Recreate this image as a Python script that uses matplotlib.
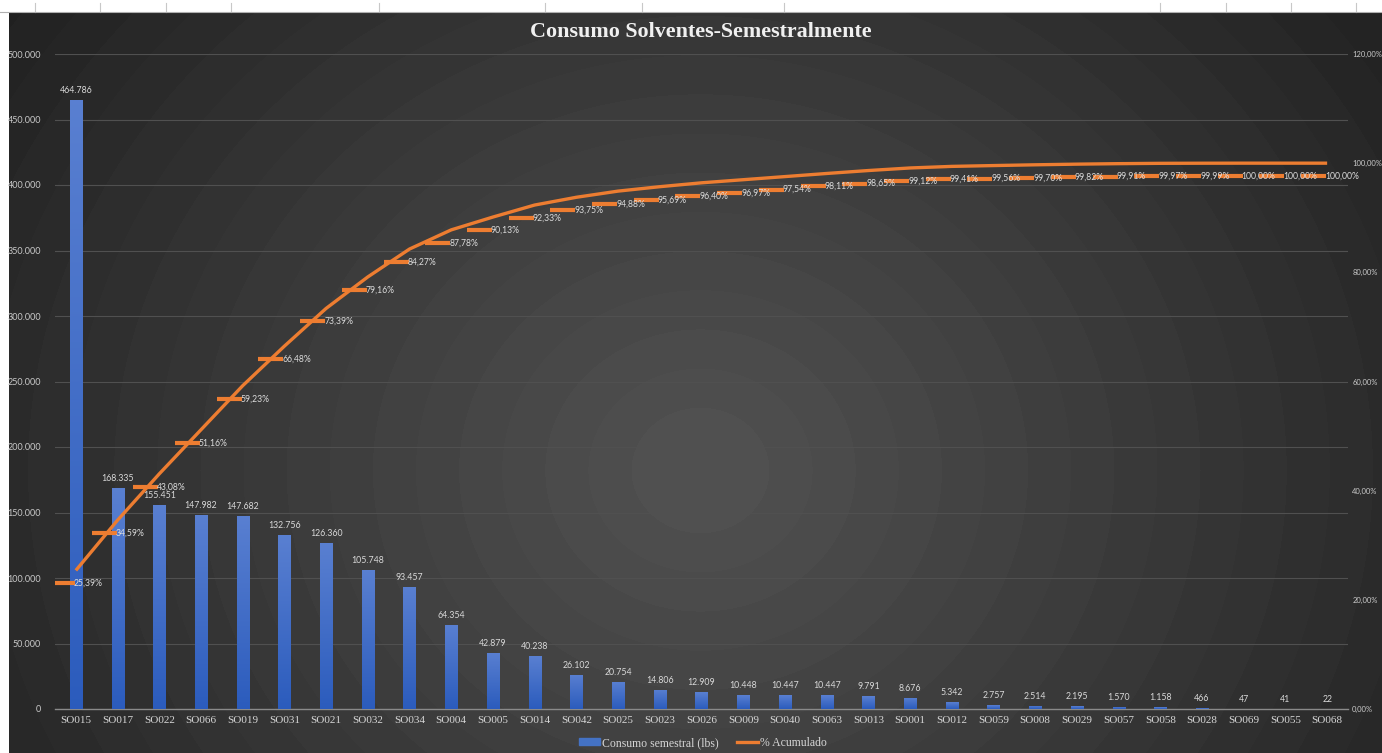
import numpy as np
import matplotlib
matplotlib.use("Agg")
import matplotlib.pyplot as plt
from matplotlib.transforms import ScaledTranslation
from matplotlib.patches import Rectangle
from matplotlib.lines import Line2D

# ---- data ----
categories = ["SO015", "SO017", "SO022", "SO066", "SO019", "SO031", "SO021", "SO032",
              "SO034", "SO004", "SO005", "SO014", "SO042", "SO025", "SO023", "SO026",
              "SO009", "SO040", "SO063", "SO013", "SO001", "SO012", "SO059", "SO008",
              "SO029", "SO057", "SO058", "SO028", "SO069", "SO055", "SO068"]
consumo = [464786, 168335, 155451, 147982, 147682, 132756, 126360, 105748,
           93457, 64354, 42879, 40238, 26102, 20754, 14806, 12909,
           10448, 10447, 10447, 9791, 8676, 5342, 2757, 2514,
           2195, 1570, 1158, 466, 47, 41, 22]
acumulado = [25.39, 34.59, 43.08, 51.16, 59.23, 66.48, 73.39, 79.16,
             84.27, 87.78, 90.13, 92.33, 93.75, 94.88, 95.69, 96.40,
             96.97, 97.54, 98.11, 98.65, 99.12, 99.41, 99.56, 99.70,
             99.82, 99.91, 99.97, 99.99, 100.00, 100.00, 100.00]
left_ticks = list(range(0, 500001, 50000))
right_ticks = [0, 20, 40, 60, 80, 100, 120]

W, H, DPI = 1382, 753, 100
fig = plt.figure(figsize=(W / DPI, H / DPI), dpi=DPI)
fig.patch.set_facecolor("white")

# ---- chart background: soft banded radial gradient ----
bg_l, bg_b = 9 / W, 0.0
bg_w, bg_h = 1 - bg_l, (H - 12) / H
bgax = fig.add_axes([bg_l, bg_b, bg_w, bg_h], zorder=0)
bgax.set_axis_off()
pw, ph = int(W - 9), int(H - 12)
yy, xx = np.mgrid[0:ph, 0:pw]
cx, cy = 700 - 9, 470 - 12
d = np.sqrt((xx - cx) ** 2 + ((yy - cy) * 1.1) ** 2)
val = 84 - 0.058 * d
val = np.floor(val / 2.5) * 2.5
val = np.clip(val, 30, 80) / 255.0
img = np.dstack([val, val, val])
bgax.imshow(img, aspect="auto", interpolation="bilinear")

# spreadsheet header strip
for xp in [35, 100, 166, 231, 379, 545, 642, 784, 1160, 1226, 1291, 1356]:
    fig.add_artist(Line2D([xp / W, xp / W], [1 - 12 / H, 1 - 3 / H],
                          color="#c8c8c8", lw=0.8, transform=fig.transFigure))
fig.add_artist(Line2D([0, 1], [1 - 12 / H, 1 - 12 / H], color="#b0b0b0", lw=0.8,
                      transform=fig.transFigure))

# ---- main axes ----
ax = fig.add_axes([55 / W, (H - 709) / H, (1348 - 55) / W, (709 - 54) / H], zorder=2)
ax.patch.set_alpha(0)
x = np.arange(len(categories))

tick_col = "#c9c9c9"
sans = ["Lato", "DejaVu Sans"]
serif = ["Liberation Serif", "DejaVu Serif"]

ax.set_yticks(left_ticks)
ax.set_yticklabels([f"{v:,}".replace(",", ".") for v in left_ticks],
                   fontsize=6.5, color=tick_col, family=sans)
ax.tick_params(axis="y", length=0, pad=10)
ax.set_xticks(x)
ax.set_xticklabels(categories, fontsize=8, color="#d6d6d6", family=serif)
ax.tick_params(axis="x", length=0, pad=5)
ax.grid(axis="y", color="#505050", lw=0.8)
ax.set_axisbelow(True)
for s in ["top", "right", "left"]:
    ax.spines[s].set_visible(False)
ax.spines["bottom"].set_color("#8a8a8a")
ax.spines["bottom"].set_linewidth(1.0)

# bars with vertical gradient
bar_w = 0.29
bars = ax.bar(x, consumo, width=bar_w, color="#4472c4", zorder=3)
grad = np.linspace(0, 1, 256).reshape(-1, 1)
top_c = np.array([0.35, 0.50, 0.82])
bot_c = np.array([0.17, 0.36, 0.74])
grad_img = (bot_c[None, None, :] * (1 - grad[..., None]) + top_c[None, None, :] * grad[..., None])
for b in bars:
    bx, by = b.get_x(), b.get_y()
    bw, bh = b.get_width(), b.get_height()
    im = ax.imshow(grad_img, extent=[bx, bx + bw, by, by + bh], origin="lower",
                   aspect="auto", zorder=3.1)
    im.set_clip_path(b)
ax.set_xlim(-0.5, len(categories) - 0.5)
ax.set_ylim(0, 500000)

for xi, v in zip(x, consumo):
    ax.annotate(f"{v:,}".replace(",", "."), (xi, v), xytext=(0, 5),
                textcoords="offset pixels", ha="center", va="bottom",
                fontsize=6.3, color="#d9d9d9", family=sans, zorder=5)

# ---- cumulative percentage on secondary axis ----
ax2 = ax.twinx()
ax2.set_zorder(3)
ax2.patch.set_alpha(0)
ax2.set_ylim(0, 120)
ax2.set_yticks(right_ticks)
ax2.set_yticklabels([f"{v:.2f}".replace(".", ",") + "%" for v in right_ticks],
                    fontsize=5.5, color=tick_col, family=sans)
ax2.tick_params(axis="y", length=0, pad=3)
for s in ["top", "right", "left", "bottom"]:
    ax2.spines[s].set_visible(False)

orange = "#ed7d31"
ax2.plot(x, acumulado, color=orange, lw=2.4, zorder=4, solid_capstyle="butt")
shift = ScaledTranslation(-14 / DPI, -13 / DPI, fig.dpi_scale_trans)
ax2.plot(x, acumulado, ls="none", marker="_", ms=18, mew=3, color=orange,
         transform=ax2.transData + shift, zorder=4)
for xi, p in zip(x, acumulado):
    ax2.annotate(f"{p:.2f}".replace(".", ",") + "%", (xi, p), xytext=(-2, -13),
                 textcoords="offset pixels", ha="left", va="center",
                 fontsize=6.2, color="#dcdcdc", family=sans, zorder=5)

# ---- title ----
fig.text(701 / W, 1 - 32 / H, "Consumo Solventes-Semestralmente", ha="center", va="center",
         fontsize=15.8, fontweight="bold", color="#f0f0f0", family=serif)

# ---- legend ----
handles = [Rectangle((0, 0), 1, 1, color="#4472c4"),
           Line2D([0], [0], color=orange, lw=2.4)]
fig.legend(handles, ["Consumo semestral (lbs)", "% Acumulado"], loc="center",
           bbox_to_anchor=(703 / W, 1 - 743 / H), ncol=2, frameon=False,
           prop={"family": serif, "size": 8.5}, labelcolor="#d6d6d6",
           handlelength=1.8, handleheight=0.5, handletextpad=0.2, columnspacing=1.5)

fig.savefig("out.png", dpi=DPI)
